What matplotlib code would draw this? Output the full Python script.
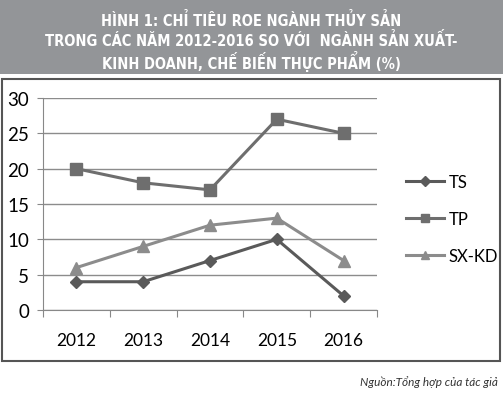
import matplotlib
matplotlib.use("Agg")
import matplotlib.pyplot as plt
from matplotlib.patches import Rectangle

years = ["2012", "2013", "2014", "2015", "2016"]
ts = [4, 4, 7, 10, 2]
tp = [20, 18, 17, 27, 25]
sxkd = [6, 9, 12, 13, 7]
series_names = ["TS", "TP", "SX-KD"]
yticks = [0, 5, 10, 15, 20, 25, 30]
title_lines = ["HÌNH 1: CHỈ TIÊU ROE NGÀNH THỦY SẢN",
               "TRONG CÁC NĂM 2012-2016 SO VỚI  NGÀNH SẢN XUẤT-",
               "KINH DOANH, CHẾ BIẾN THỰC PHẨM (%)"]
source = "Nguồn:Tổng hợp của tác giả"

W, H = 503, 402
fig = plt.figure(figsize=(W / 100, H / 100), dpi=100)
fig.patch.set_facecolor("white")

# title band
fig.add_artist(Rectangle((0, 1 - 75 / H), 1, 75 / H, transform=fig.transFigure,
                         facecolor="#939598", edgecolor="none"))
for i, line in enumerate(title_lines):
    fig.text(0.5, 1 - (21 + 20 * i) / H, line, ha="center", va="center",
             color="white", fontsize=10.5, fontweight="bold",
             family=["DejaVu Sans"], fontstretch="condensed")

# chart box
fig.add_artist(Rectangle((2 / W, 1 - 362 / H), 498 / W, 282 / H, transform=fig.transFigure,
                         facecolor="none", edgecolor="#555555", lw=1.5))

ax = fig.add_axes([43 / W, 1 - 311 / H, 334 / W, 212 / H])
x = list(range(len(years)))
l1, = ax.plot(x, ts, color="#5a5a5a", lw=2.2, marker="D", ms=6, label=series_names[0])
l2, = ax.plot(x, tp, color="#6e6e6e", lw=2.2, marker="s", ms=8, label=series_names[1])
l3, = ax.plot(x, sxkd, color="#8c8c8c", lw=2.2, marker="^", ms=8, label=series_names[2])

ax.set_xlim(-0.5, 4.5)
ax.set_ylim(0, 30)
ax.set_yticks(yticks)
ax.set_yticklabels([str(v) for v in yticks], fontsize=13.5, family="Lato")
ax.set_xticks([i - 0.5 for i in range(len(years) + 1)])
ax.set_xticklabels([])
ax.set_xticks(x, minor=True)
ax.set_xticklabels(years, minor=True, fontsize=12.5, family="Lato")
ax.tick_params(axis="x", which="minor", length=0, pad=16)
ax.tick_params(axis="x", which="major", length=5, color="#888888")
ax.tick_params(axis="y", length=4, color="#888888", pad=6)
for s in ["top", "right"]:
    ax.spines[s].set_visible(False)
for s in ["left", "bottom"]:
    ax.spines[s].set_color("#888888")
ax.grid(axis="y", color="#8c8c8c", lw=1)
ax.set_axisbelow(True)

fig.legend(handles=[l1, l2, l3], loc="center left", bbox_to_anchor=(406 / W, 1 - 220 / H),
           frameon=False, borderaxespad=0, borderpad=0,
           prop={"family": "Lato", "size": 12},
           handlelength=2.3, handletextpad=0.25, labelspacing=1.25, markerscale=0.8)

fig.text(498 / W, 1 - 382 / H, source, ha="right", va="center", fontsize=8.5,
         style="italic", family="Lato", color="#333333")

fig.savefig("out.png", dpi=100)
